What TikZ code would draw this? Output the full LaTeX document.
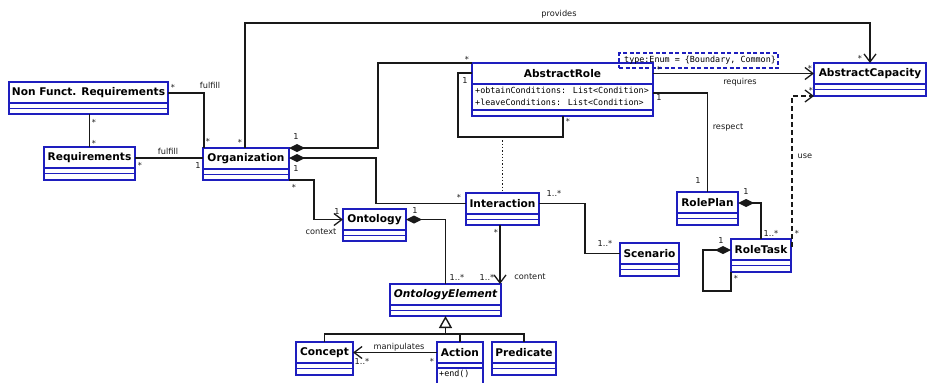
\documentclass[tikz,border=0pt]{standalone}
\usepackage{fontspec}
\setmainfont{DejaVu Sans}
\newfontfamily\monofont{DejaVu Sans Mono}
\usetikzlibrary{arrows.meta,calc}
\definecolor{umlblue}{RGB}{30,30,190}
\definecolor{ink}{RGB}{25,25,25}
\tikzset{
  clsbox/.style={draw=umlblue, line width=1.3pt, fill=white, inner sep=0pt, outer sep=0pt, anchor=north west},
  cmp/.style={draw=umlblue, line width=1.2pt},
  cname/.style={font=\fontsize{10.6}{12}\selectfont\bfseries, inner sep=0pt},
  lbl/.style={font=\fontsize{8.2}{9}\selectfont, inner sep=0pt, text=ink},
  mono/.style={font=\monofont\fontsize{8.4}{12}\selectfont, inner sep=0pt},
  conn/.style={draw=ink, line width=1.4pt},
  nav/.style={-{Straight Barb[length=8pt,width=12pt,line width=1.3pt]}},
  compo/.style={{Diamond[length=16pt,width=8pt]}-},
  gen/.style={-{Triangle[open,length=12pt,width=13pt,fill=white]}},
  notebox/.style={draw=umlblue, line width=1.2pt, dash pattern=on 4pt off 2.5pt, inner sep=0pt, outer sep=0pt, anchor=north west}
}
\newcommand\umlclass[6]{%
  \node[clsbox, minimum width={#4-#2}, minimum height={#5-#3}] (#1) at (#2,#3) {};
  \node[cname] (#1-t) at ($(#1.north)+(0,10.5)$) {#6};
}
\newcommand\umlrule[2]{\draw[cmp] ($(#1.north west)+(0,#2)$) -- ($(#1.north east)+(0,#2)$);}
\newcommand\stdclass[6]{\umlclass{#1}{#2}{#3}{#4}{#5}{#6}\umlrule{#1}{21}\umlrule{#1}{26.5}}
\begin{document}
\begin{tikzpicture}[x=1pt,y=-1pt]
\useasboundingbox (0,0) rectangle (930,383);
% classes
\stdclass{nfr}{9}{82}{168}{114}{Non Funct. Requirements}
\stdclass{req}{44}{147}{135}{180}{Requirements}
\stdclass{org}{203}{148}{289}{180}{Organization}
\umlclass{ar}{472}{63}{653}{116}{AbstractRole}
\umlrule{ar}{21}\umlrule{ar}{47}
\node[mono, anchor=north west, align=left] (ar-a) at (475,87) {+obtainConditions: List<Condition>\\+leaveConditions: List<Condition>};
\stdclass{ac}{814}{63}{926}{96}{AbstractCapacity}
\stdclass{rp}{677}{192}{738}{225}{RolePlan}
\stdclass{rt}{731}{239}{791}{272}{RoleTask}
\stdclass{sc}{620}{243}{679}{276}{Scenario}
\stdclass{inter}{466}{193}{539}{225}{Interaction}
\stdclass{onto}{343}{209}{406}{241}{Ontology}
\umlclass{oe}{390}{284}{501}{316}{\itshape OntologyElement}
\umlrule{oe}{21}\umlrule{oe}{26.5}
\stdclass{conc}{296}{342}{353}{375}{Concept}
\umlclass{act}{437}{342}{483}{390}{Action}
\umlrule{act}{21}\umlrule{act}{26}
\node[mono, anchor=west] (act-o) at (439,374) {+end()};
\stdclass{pred}{492}{342}{556}{375}{Predicate}
\node[notebox, minimum width=159, minimum height=15] (note) at (619,53) {};
\node[mono, anchor=west] (note-t) at (624,60.5) {type:Enum = \{Boundary, Common\}};
% helper coordinates
\coordinate (f1) at (204,93);
\coordinate (y158) at (0,158);
\coordinate (pv1) at (245,23);
\coordinate (pv2) at (870,23);
\coordinate (c5) at (378,0);
\coordinate (c6a) at (376,158);
\coordinate (c6b) at (376,203.5);
\coordinate (s1) at (458,73);
\coordinate (s2) at (458,137);
\coordinate (s3) at (563,137);
\coordinate (y73) at (0,73.5);
\coordinate (y93) at (0,93);
\coordinate (y203) at (0,203);
\coordinate (u1) at (792,247);
\coordinate (y250) at (0,250);
\coordinate (t1) at (703,250);
\coordinate (t2) at (703,291);
\coordinate (k1) at (314,219.5);
\coordinate (y219) at (0,219.5);
\coordinate (cx) at (500,0);
\coordinate (sc1) at (585,203.5);
\coordinate (y254) at (0,253.5);
\coordinate (gj) at (0,334);
\coordinate (y352) at (0,352.5);
% connectors
\draw[conn] (nfr.east |- f1) -- (f1) -- (org.north -| f1);
\draw[conn] (nfr.south -| req.north) -- (req.north);
\draw[conn] (req.east |- y158) -- (org.west |- y158);
\draw[conn,nav] (org.north -| pv1) -- (pv1) -- (pv2) -- (ac.north -| pv2);
\draw[conn,compo] (org.north east) -- (org.north east -| c5) -- (ar.north west -| c5) -- (ar.north west);
\draw[conn,compo] (org.east |- c6a) -- (c6a) -- (c6b) -- (inter.west |- c6b);
\draw[conn] (ar.west |- s1) -- (s1) -- (s2) -- (s3) -- (ar.south -| s3);
\draw[ink, line width=1.3pt, dotted] (inter.north |- s2) -- (inter.north);
\draw[conn,nav] (ar.east |- y73) -- (ac.west |- y73);
\draw[conn] (ar.east |- y93) -| (rp.north);
\draw[conn,compo] (rp.east |- y203) -| (rt.north);
\draw[conn,nav,dash pattern=on 5pt off 3pt] (u1) |- (ac.south west);
\draw[conn,compo] (rt.west |- y250) -- (t1) -- (t2) -| (rt.south west);
\draw[conn,nav] (org.south east) -| (k1) -- (onto.west |- k1);
\draw[conn,compo] (onto.east |- y219) -| (oe.north);
\draw[conn,nav] (inter.south -| cx) -- (oe.north -| cx);
\draw[conn] (inter.east |- sc1) -- (sc1) |- (sc.west |- y254);
\draw[conn] (conc.north) |- (pred.north |- gj) -- (pred.north);
\draw[conn] (act.north) -- (act.north |- gj);
\draw[conn,gen] (oe.south |- gj) -- (oe.south);
\draw[conn,nav] (act.west |- y352) -- (conc.east |- y352);
% labels
\node[lbl] (l1) at (173,87) {*};
\node[lbl] (l2) at (210,85) {fulfill};
\node[lbl] (l3) at (208,141) {*};
\node[lbl] (l4) at (94,122) {*};
\node[lbl] (l5) at (94,143) {*};
\node[lbl] (l6) at (168,151) {fulfill};
\node[lbl] (l7) at (140,165) {*};
\node[lbl] (l8) at (198,166) {1};
\node[lbl] (l9) at (240,142) {*};
\node[lbl] (l10) at (296,137) {1};
\node[lbl] (l11) at (296,169) {1};
\node[lbl] (l12) at (294,187) {*};
\node[lbl] (l13) at (467,59) {*};
\node[lbl] (l14) at (465,81) {1};
\node[lbl] (l15) at (568,121) {*};
\node[lbl] (l16) at (659,69) {*};
\node[lbl] (l17) at (659,98) {1};
\node[lbl] (l18) at (559,14) {provides};
\node[lbl] (l19) at (860,58) {*};
\node[lbl] (l20) at (740,82) {requires};
\node[lbl] (l21) at (810,68) {*};
\node[lbl] (l22) at (811,90) {*};
\node[lbl] (l23) at (728,127) {respect};
\node[lbl] (l24) at (805,156) {use};
\node[lbl] (l25) at (698,181) {1};
\node[lbl] (l26) at (746,192) {1};
\node[lbl] (l27) at (771,233) {1..*};
\node[lbl] (l28) at (797,233) {*};
\node[lbl] (l29) at (721,241) {1};
\node[lbl] (l30) at (736,278) {*};
\node[lbl] (l31) at (459,197) {*};
\node[lbl] (l32) at (554,193) {1..*};
\node[lbl] (l33) at (605,243) {1..*};
\node[lbl] (l34) at (496,232) {*};
\node[lbl] (l35) at (487,277) {1..*};
\node[lbl] (l36) at (530,277) {content};
\node[lbl] (l37) at (457,277) {1..*};
\node[lbl] (l38) at (415,211) {1};
\node[lbl] (l39) at (337,212) {1};
\node[lbl] (l40) at (321,232) {context};
\node[lbl] (l41) at (399,347) {manipulates};
\node[lbl] (l42) at (432,361) {*};
\node[lbl] (l43) at (362,361) {1..*};
\end{tikzpicture}
\end{document}
